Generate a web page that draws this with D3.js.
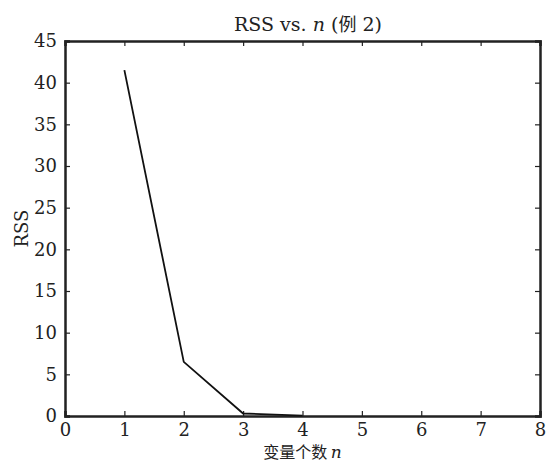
<!DOCTYPE html>
<html>
<head>
<meta charset="utf-8">
<script src="https://cdn.jsdelivr.net/npm/d3@7"></script>
<style>
  body { margin: 0; background: #fff; }
</style>
</head>
<body>
<svg width="547" height="463"></svg>
<script>
var nValues = [1, 2, 3, 4];
var rssValues = [41.5, 6.5, 0.3, 0.05];
var xTicks = [0, 1, 2, 3, 4, 5, 6, 7, 8];
var yTicks = [0, 5, 10, 15, 20, 25, 30, 35, 40, 45];

var serif = "'DejaVu Serif', serif";
var cjk = "'Noto Sans CJK SC'";

var svg = d3.select("svg"),
    margin = {top: 41, right: 7, bottom: 47, left: 65},
    width = +svg.attr("width") - margin.left - margin.right,
    height = +svg.attr("height") - margin.top - margin.bottom;

var g = svg.append("g")
    .attr("transform", "translate(" + margin.left + "," + margin.top + ")");

var xScale = d3.scaleLinear().domain([0, 8]).range([0, width]);
var yScale = d3.scaleLinear().domain([0, 45]).range([height, 0]);

// bottom axis
var xAxis = g.append("g")
    .attr("transform", "translate(0," + height + ")")
    .call(d3.axisBottom(xScale).tickValues(xTicks).tickSize(-5).tickPadding(7).tickFormat(d3.format("d")));
// top axis, ticks only
var xTop = g.append("g")
    .call(d3.axisTop(xScale).tickValues(xTicks).tickSize(-5).tickFormat(""));
// left axis
var yAxis = g.append("g")
    .call(d3.axisLeft(yScale).tickValues(yTicks).tickSize(-5).tickPadding(8));
// right axis, ticks only
var yRight = g.append("g")
    .attr("transform", "translate(" + width + ",0)")
    .call(d3.axisRight(yScale).tickValues(yTicks).tickSize(-5).tickFormat(""));

[xAxis, xTop, yAxis, yRight].forEach(function(a) {
  a.attr("font-family", null);
  a.select(".domain").attr("stroke", "#222").attr("stroke-width", 2.5);
  a.selectAll(".tick line").attr("stroke", "#222").attr("stroke-width", 1.2);
  a.selectAll(".tick text").attr("font-size", 18).attr("fill", "#222").style("font-family", serif);
});

var line = d3.line()
    .x(function(d, i) { return xScale(nValues[i]); })
    .y(function(d) { return yScale(d); });

g.append("path")
    .datum(rssValues)
    .attr("fill", "none")
    .attr("stroke", "#111")
    .attr("stroke-width", 1.8)
    .attr("d", line);

// title
var title = svg.append("text")
    .attr("x", 308)
    .attr("y", 31)
    .attr("text-anchor", "middle")
    .style("font-family", serif)
    .attr("font-size", 19)
    .attr("fill", "#222");
title.append("tspan").text("RSS vs. ");
title.append("tspan").attr("font-style", "italic").text("n");
title.append("tspan").text(" (");
title.append("tspan").style("font-family", cjk).attr("font-size", 18).text("例");
title.append("tspan").text(" 2)");

// x label
var xl = svg.append("text")
    .attr("x", margin.left + width / 2)
    .attr("y", 458)
    .attr("text-anchor", "middle")
    .style("font-family", serif)
    .attr("font-size", 17)
    .attr("fill", "#222");
xl.append("tspan").style("font-family", cjk).attr("font-size", 16).text("变量个数 ");
xl.append("tspan").attr("font-style", "italic").text("n");

// y label
svg.append("text")
    .attr("transform", "translate(28," + (margin.top + height / 2) + ") rotate(-90)")
    .attr("text-anchor", "middle")
    .style("font-family", serif)
    .attr("font-size", 18)
    .attr("fill", "#222")
    .text("RSS");
</script>
</body>
</html>
